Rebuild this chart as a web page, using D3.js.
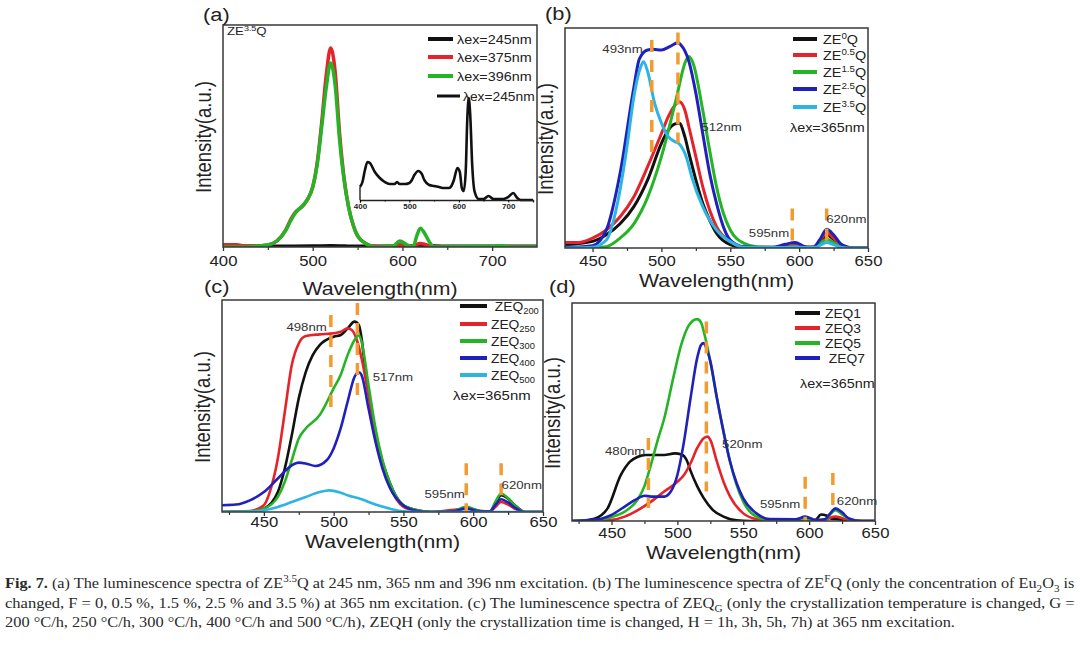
<!DOCTYPE html>
<html><head><meta charset="utf-8">
<script src="https://cdn.jsdelivr.net/npm/d3@7/dist/d3.min.js"></script>
<style>
html,body{margin:0;padding:0;background:#fff;}
svg{display:block;}
</style></head><body>
<svg id="fig" width="1080" height="645"></svg>
<script>
// ================= DATA =================
// Panel (a): ZE3.5Q under different excitation wavelengths  [nm, intensity]
const aEx245 = [[400,0.4],[450,0.3],[500,0.4],[520,0.6],[550,0.3],[600,0.3],[620,0.5],[650,0.3],[700,0.3],[750,0.3]];
const aEx375 = [[400,1],[415,1],[425,0.4],[440,0.5],[450,0.9],[460,2.7],[470,7.7],[475,12],[480,15.3],[490,19],[495,22],[500,27],[505,38],[510,56],[515,77],[520,89.6],[525,79],[530,51],[535,31],[540,18],[545,10],[550,5],[560,1.4],[570,0.2],[590,0.3],[597,1],[605,0.5],[612,0.2],[616,1.2],[620,1.6],[625,1.2],[630,0.5],[635,0],[700,0.1],[750,0]];
const aEx396 = [[400,0],[420,0],[440,0.5],[450,0.9],[460,2.7],[470,7.5],[475,11.5],[480,15],[490,19.2],[495,22],[500,27],[505,37],[510,54],[515,71.6],[520,82.9],[525,73],[530,48],[535,30],[540,18],[545,10],[550,5],[560,1.4],[570,0],[590,0.5],[597,2.7],[605,1],[612,0.2],[616,5],[620,8.5],[625,6],[630,2.3],[635,0],[700,0.3],[710,0.6],[720,0],[750,0]];
// inset of (a): 245 nm excitation
const aInset245 = [[400,11],[405,15],[410,25],[415,31.7],[420,30.8],[430,23.3],[440,18.3],[450,15],[460,13.3],[470,13.3],[475,15],[480,13.3],[490,13.3],[500,14.2],[505,16.7],[510,20.8],[518,24.2],[525,21.7],[530,16.7],[540,12.5],[550,11.7],[560,10.8],[570,10],[580,10],[585,11.7],[590,16.7],[597,26.7],[602,23.3],[606,10],[610,7.5],[614,25],[617,66.7],[620,85],[623,70.8],[627,29.2],[632,6.7],[640,0.8],[650,0.8],[660,3.3],[670,0.8],[690,0.8],[700,2.5],[710,5.8],[718,1.7],[725,0],[750,0]];
const aLegend = ["λex=245nm","λex=375nm","λex=396nm"];
const aInsetLegend = "λex=245nm";
const aTicks = [400,500,600,700], aMinor = [450,550,650];
const insetTicks = [400,500,600,700], insetMinor = [450,550,650];

// Panel (b): ZE^F Q, lambda ex = 365 nm
const bZE0  = [[430,1.5],[450,3],[460,6],[470,11],[480,18.8],[490,31],[500,47.6],[505,53.6],[510,56.4],[513,56.7],[517,50.6],[520,43],[525,31],[530,20.3],[535,12.7],[540,6.7],[550,1.5],[560,0.2],[580,0.1],[590,0.5],[597,1],[605,0.3],[612,0.5],[616,3],[620,6],[625,4],[630,1.2],[640,0],[650,0]];
const bZE05 = [[430,2.5],[440,2.5],[450,4.5],[460,8.2],[470,14.2],[480,23.3],[490,37],[500,52],[505,59.7],[510,65],[513,66.5],[517,62.7],[520,55],[525,41.5],[530,27.9],[535,17.3],[540,9.7],[550,2.9],[560,0.5],[580,0.1],[590,0.5],[597,1],[605,0.3],[612,0.5],[616,4],[620,7],[625,4.5],[630,1.3],[640,0],[650,0]];
const bZE15 = [[430,0],[450,0.2],[460,0.6],[470,4.5],[480,11],[490,23],[500,41.5],[510,65.8],[518,85.5],[520,87],[523,84],[530,62.7],[535,44.5],[540,27.9],[545,15.8],[550,8.2],[560,2.1],[570,0.5],[590,0.3],[597,0.5],[605,0.2],[612,0.4],[616,2.5],[620,4],[625,2.5],[630,0.8],[640,0],[650,0]];
const bZE25 = [[430,0.5],[440,0.5],[450,1],[460,8.2],[470,34],[480,73],[484,86],[490,90],[494,90.3],[500,90],[506,91.5],[512,93.3],[514,92.4],[520,84.7],[525,70.4],[530,52],[535,34],[540,20.3],[546,8],[550,3.6],[560,0.6],[580,0.3],[590,1.7],[597,2.5],[605,0.5],[610,0.3],[615,3.8],[620,8.5],[625,6],[630,2],[635,0.5],[640,0],[650,0]];
const bZE35 = [[430,0],[450,0.3],[460,3.6],[470,26.5],[475,46],[480,68.8],[485,82.4],[487,84.7],[490,80.2],[495,66],[500,56.8],[505,50.6],[510,48.3],[513,47.3],[518,41.5],[522,32.4],[530,18.8],[540,8.2],[550,2.9],[560,0.3],[590,0.2],[597,0.5],[605,0.2],[612,0.3],[616,1.5],[620,2.5],[625,1.5],[630,0.4],[640,0],[650,0]];
const bLegend = ["ZE^{0}Q","ZE^{0.5}Q","ZE^{1.5}Q","ZE^{2.5}Q","ZE^{3.5}Q"];
const bMarkers = [[493,94.5,43.2],[512,98,47.7],[595,18,0],[620,18,0]];   // [nm, top, bottom]
const bNotes = [["493nm",486.4,88.6,"end"],["512nm",529,53.2,"start"],["595nm",592.8,5,"end"],["620nm",619.6,11.4,"start"]];
const bTicks = [450,500,550,600,650], bMinor = [475,525,575,625];

// Panel (c): ZEQ_G, crystallization temperature
const cZEQ200 = [[420,0],[440,0.3],[450,1.6],[460,9.4],[465,20.5],[470,36.2],[475,53.6],[480,66],[485,74],[490,78.7],[500,82.7],[505,83.5],[510,86.6],[515,89.8],[518,88.2],[520,82],[522,70.9],[525,56.7],[530,37.8],[535,23.6],[540,14.2],[545,7.1],[550,3.1],[560,0.8],[570,0],[585,0.3],[595,2],[605,0.5],[612,0.3],[616,4],[620,7.9],[625,6.3],[630,3.1],[637,0],[650,0]];
const cZEQ250 = [[420,0],[440,0.5],[450,3.2],[455,11],[460,25.2],[465,47.2],[470,69.3],[475,79.5],[480,83],[490,83.8],[500,84.3],[505,85],[510,86.6],[513,85.8],[517,80.3],[520,72.5],[525,55],[530,36.2],[535,22],[540,12.6],[550,2.4],[560,0.5],[570,0],[595,1.5],[605,0.3],[612,0.3],[616,2.5],[620,4.7],[625,3.5],[630,1.5],[637,0],[650,0]];
const cZEQ300 = [[420,0],[440,0.3],[450,1.6],[460,7.1],[465,14.2],[470,24.4],[475,34.7],[480,39.4],[490,45.7],[500,58.3],[505,64.6],[510,74],[515,81.1],[518,83.5],[520,80.3],[525,59.8],[530,39.4],[535,24.4],[540,14.2],[550,3.1],[560,0.8],[570,0],[585,0.3],[595,2.4],[605,0.5],[612,0.3],[616,5],[620,8.7],[625,6.5],[630,3],[637,0],[650,0]];
const cZEQ400 = [[420,3.2],[430,3.5],[440,5.5],[450,9.4],[460,15.8],[470,22],[475,23.3],[480,22.9],[487,21.7],[495,24.4],[500,30],[505,39.4],[510,52],[515,63.8],[518,65.9],[520,64.6],[525,48.8],[530,33],[535,20.5],[540,11.8],[550,3.1],[560,0.5],[570,0],[585,0.3],[595,1.6],[605,0.3],[612,0.3],[616,3.5],[620,6],[625,4.5],[630,2],[637,0],[650,0]];
const cZEQ500 = [[420,0],[440,0.2],[450,0.8],[460,2.4],[470,4.7],[480,7.1],[490,9.4],[497,10.2],[505,9.1],[510,7.9],[520,6],[530,3.5],[540,1.6],[550,0.3],[560,0],[650,0]];
const cLegend = [" ZEQ_{200}","ZEQ_{250}","ZEQ_{300}","ZEQ_{400}","ZEQ_{500}"];
const cMarkers = [[498,92.9,48.9],[517,98.6,55.1],[595,23,0],[620,23,5.5]];
const cNotes = [["498nm",495.1,85.4,"end"],["517nm",528,61.7,"start"],["595nm",594,6.5,"end"],["620nm",620.3,10.7,"start"]];
const cTicks = [450,500,550,600,650], cMinor = [425,475,525,575,625];

// Panel (d): ZEQH, crystallization time
const dZEQ1 = [[420,0],[430,0.3],[437,1],[447,5.8],[457,21],[464,27.2],[470,29.5],[476,30.3],[490,30.3],[498,31],[503,30.5],[507,28],[510,23],[515,16],[520,10.5],[527,5],[535,2],[545,0.3],[555,0],[600,0],[605,0.5],[609,3],[613,2.5],[617,1],[622,0.8],[630,0],[650,0]];
const dZEQ3 = [[420,0],[440,0.2],[450,0.5],[460,2],[470,5],[480,8.9],[490,13.5],[500,18],[505,21.1],[510,26.5],[515,33.4],[520,38],[523,38.7],[525,37.2],[530,27.2],[535,18],[540,11.2],[550,3.5],[560,0.8],[570,0],[605,0],[612,0.5],[616,1.5],[620,2],[625,1.3],[630,0.5],[640,0],[650,0]];
const dZEQ5 = [[420,0],[440,0.5],[450,1.8],[460,4.3],[470,10],[475,16],[480,26],[485,37],[490,47],[497,66],[503,81],[509,90],[515,92.6],[518,91],[520,87],[525,73.2],[530,56.4],[535,41],[540,27.2],[545,16.5],[550,8.9],[560,2],[570,0.5],[585,0.3],[595,1.2],[605,0.3],[612,0.5],[616,3],[620,5],[625,3],[630,1.2],[640,0],[650,0]];
const dZEQ7 = [[420,0],[440,0.8],[450,2.8],[460,6.6],[470,10.4],[475,11.6],[480,11.2],[490,11.2],[495,13.5],[500,21.1],[505,36.4],[510,56.4],[515,74.7],[518,80.8],[520,81.6],[522,79.3],[525,73.2],[530,56.4],[535,41],[540,27.2],[545,17.3],[550,10.4],[560,3.5],[570,0.9],[590,0.8],[597,2],[605,0.5],[612,0.8],[616,3.5],[620,5.8],[625,4],[630,1.2],[640,0],[650,0]];
const dLegend = ["ZEQ1","ZEQ3","ZEQ5"," ZEQ7"];
const dMarkers = [[478,38.1,6],[522,91.5,13.5],[597,20.3,0],[618,22,7.3]];
const dNotes = [["480nm",475.7,30.3,"end"],["520nm",533.9,33.7,"start"],["595nm",593.3,5.8,"end"],["620nm",621,7.3,"start"]];
const dTicks = [450,500,550,600,650], dMinor = [425,475,525,575,625];

// Caption
const captionLines = [
  [["Fig. 7.","b"],[" (a) The luminescence spectra of ZE"],["3.5","sup"],["Q at 245 nm, 365 nm and 396 nm excitation. (b) The luminescence spectra of ZE"],["F","sup"],["Q (only the concentration of Eu"],["2","sub"],["O"],["3","sub"],[" is"]],
  [["changed, F = 0, 0.5 %, 1.5 %, 2.5 % and 3.5 %) at 365 nm excitation. (c) The luminescence spectra of ZEQ"],["G","sub"],[" (only the crystallization temperature is changed, G ="]],
  [["200 °C/h, 250 °C/h, 300 °C/h, 400 °C/h and 500 °C/h), ZEQH (only the crystallization time is changed, H = 1h, 3h, 5h, 7h) at 365 nm excitation."]]
];

// ================= DRAWING =================
const COL = {k:"#111111", r:"#e4232a", g:"#25b425", b:"#2020bb", c:"#2cb4e2", o:"#f29b30"};
const FONT = "'Liberation Sans', Arial, Helvetica, sans-serif";
const SX = 1.15;  // horizontal stretch of the original artwork
const svg = d3.select("#fig");

function richText(sel, s, fs) {
  const re = /([\^_])\{([^}]*)\}/g;
  let last = 0, m, cur = 0;
  const add = (str, off, size) => {
    if (!str) return;
    sel.append("tspan").attr("dy", off - cur).attr("font-size", size).text(str);
    cur = off;
  };
  while ((m = re.exec(s)) !== null) {
    add(s.slice(last, m.index), 0, fs);
    add(m[2], m[1] === "^" ? -0.38 * fs : 0.25 * fs, 0.68 * fs);
    last = re.lastIndex;
  }
  add(s.slice(last), 0, fs);
}
function label(g, x, y, s, fs, anchor, opts) {
  opts = opts || {};
  const t = g.append("text")
    .attr("transform", `translate(${x},${y}) scale(${SX},1)` + (opts.rot ? " rotate(-90)" : ""))
    .attr("font-family", FONT).attr("font-size", fs).attr("fill", opts.fill || "#222")
    .attr("text-anchor", anchor || "start").style("white-space", "pre");
  if (opts.weight) t.attr("font-weight", opts.weight);
  richText(t, s, fs);
  return t;
}

function panel(o) {
  const g = svg.append("g");
  const x = d3.scaleLinear().domain(o.xd).range([o.l, o.r]);
  const y = d3.scaleLinear().domain([0, 100]).range([o.b, o.t]);
  const clipId = "clip" + o.name;
  svg.append("clipPath").attr("id", clipId).append("rect")
    .attr("x", o.l).attr("y", o.t).attr("width", o.r - o.l).attr("height", o.b - o.t);

  // axes
  const ax = g.append("g").attr("transform", `translate(0,${o.b})`)
    .call(d3.axisBottom(x).tickValues(o.ticks).tickSize(4).tickPadding(o.pad).tickFormat(d3.format("d")));
  ax.attr("font-family", FONT).attr("font-size", 14.5);
  ax.select(".domain").remove();
  ax.selectAll("line").attr("stroke", "#333").attr("stroke-width", 1.3);
  ax.selectAll("text").attr("fill", "#222").attr("transform", `scale(${SX},1)`);
  const mi = g.append("g").attr("transform", `translate(0,${o.b})`)
    .call(d3.axisBottom(x).tickValues(o.minor).tickSize(3).tickFormat(""));
  mi.select(".domain").remove();
  mi.selectAll("line").attr("stroke", "#333").attr("stroke-width", 1.2);

  // series
  const line = d3.line().x(d => x(d[0])).y(d => y(d[1])).curve(d3.curveMonotoneX);
  const cg = g.append("g").attr("clip-path", `url(#${clipId})`);
  o.series.forEach(s => cg.append("path").attr("d", line(s.data)).attr("fill", "none")
    .attr("stroke", s.color).attr("stroke-width", o.lw).attr("stroke-linejoin", "round").attr("stroke-linecap", "round"));

  // orange dashed markers
  (o.markers || []).forEach(m => g.append("line")
    .attr("x1", x(m[0])).attr("x2", x(m[0])).attr("y1", y(m[1])).attr("y2", y(m[2]))
    .attr("stroke", COL.o).attr("stroke-width", 3.5).attr("stroke-dasharray", "12,8"));
  (o.notes || []).forEach(n => label(g, x(n[1]), y(n[2]), n[0], 11.5, n[3], {fill: "#333"}));

  // frame
  g.append("rect").attr("x", o.l).attr("y", o.t).attr("width", o.r - o.l).attr("height", o.b - o.t)
    .attr("fill", "none").attr("stroke", "#383838").attr("stroke-width", 1.5);

  // titles
  label(g, (o.l + o.r) / 2, o.xlabY, "Wavelength(nm)", 18.5, "middle");
  label(g, o.l - 12, (o.t + o.b) / 2 + 1, "Intensity(a.u.)", 18.5, "middle", {rot: true});
  label(g, o.tag[1], o.tag[2], o.tag[0], 19, "start");

  // legend
  const L = o.leg;
  o.series.forEach((s, i) => {
    if (!L.texts[i]) return;
    g.append("line").attr("x1", L.x1).attr("x2", L.x2).attr("y1", L.ys[i]).attr("y2", L.ys[i])
      .attr("stroke", s.color).attr("stroke-width", 4);
    label(g, L.tx, L.ys[i] + 4.5, L.texts[i], L.fs, "start");
  });
  return {g, x, y};
}

// ---- (a)
const A = panel({
  name: "a", l: 223, r: 537, t: 25, b: 247, xd: [400, 750], lw: 3.5, pad: 5,
  ticks: aTicks, minor: aMinor, xlabY: 295, tag: ["(a)", 203, 21],
  series: [{data: aEx245, color: COL.k}, {data: aEx375, color: COL.r}, {data: aEx396, color: COL.g}],
  leg: {x1: 428, x2: 453, tx: 457, ys: [39, 57, 76], texts: aLegend, fs: 12.5}
});
label(A.g, 227, 35, "ZE^{3.5}Q", 11.5, "start");
// inset
{
  const ix = d3.scaleLinear().domain([400, 750]).range([360, 533]);
  const iy = d3.scaleLinear().domain([0, 100]).range([200, 80]);
  const ig = A.g.append("g");
  const il = d3.line().x(d => ix(d[0])).y(d => iy(d[1])).curve(d3.curveMonotoneX);
  ig.append("path").attr("d", il(aInset245)).attr("fill", "none").attr("stroke", COL.k)
    .attr("stroke-width", 2.6).attr("stroke-linejoin", "round");
  const iax = ig.append("g").attr("transform", `translate(0,${iy(0)})`)
    .call(d3.axisBottom(ix).tickValues(insetTicks).tickSize(2.5).tickPadding(1.5).tickFormat(d3.format("d")));
  iax.attr("font-family", FONT).attr("font-size", 7).attr("font-weight", "bold");
  iax.select(".domain").attr("stroke", "#222").attr("stroke-width", 1.4);
  iax.selectAll("text").attr("fill", "#222").attr("transform", `scale(${SX},1)`);
  const imi = ig.append("g").attr("transform", `translate(0,${iy(0)})`)
    .call(d3.axisBottom(ix).tickValues(insetMinor).tickSize(1.5).tickFormat(""));
  imi.select(".domain").remove();
  ig.append("line").attr("x1", ix(400)).attr("x2", ix(400)).attr("y1", iy(0)).attr("y2", iy(11)).attr("stroke", "#222").attr("stroke-width", 1.4);
  ig.append("line").attr("x1", 437).attr("x2", 460).attr("y1", 96).attr("y2", 96).attr("stroke", COL.k).attr("stroke-width", 3);
  label(ig, 463, 100.5, aInsetLegend, 12, "start");
}

// ---- (b)
const B = panel({
  name: "b", l: 565, r: 868, t: 28, b: 248, xd: [430, 650], lw: 3, pad: 4,
  ticks: bTicks, minor: bMinor, xlabY: 287, tag: ["(b)", 545, 20],
  series: [{data: bZE0, color: COL.k}, {data: bZE05, color: COL.r}, {data: bZE15, color: COL.g}, {data: bZE25, color: COL.b}, {data: bZE35, color: COL.c}],
  markers: bMarkers, notes: bNotes,
  leg: {x1: 793, x2: 817, tx: 823, ys: [39, 55, 72, 89, 107], texts: bLegend, fs: 12.5}
});
label(B.g, 790, 132, "λex=365nm", 12.5, "start");

// ---- (c)
const Cp = panel({
  name: "c", l: 222, r: 543, t: 300, b: 512, xd: [420, 650], lw: 2.6, pad: 1,
  ticks: cTicks, minor: cMinor, xlabY: 548, tag: ["(c)", 204, 293],
  series: [{data: cZEQ200, color: COL.k}, {data: cZEQ250, color: COL.r}, {data: cZEQ300, color: COL.g}, {data: cZEQ400, color: COL.b}, {data: cZEQ500, color: COL.c}],
  markers: cMarkers, notes: cNotes,
  leg: {x1: 460, x2: 487, tx: 491, ys: [306, 324, 341, 358, 375], texts: cLegend, fs: 12}
});
label(Cp.g, 453, 400, "λex=365nm", 13, "start");

// ---- (d)
const Dp = panel({
  name: "d", l: 572, r: 875, t: 303, b: 521, xd: [420, 650], lw: 2.6, pad: 3,
  ticks: dTicks, minor: dMinor, xlabY: 559, tag: ["(d)", 549, 293],
  series: [{data: dZEQ1, color: COL.k}, {data: dZEQ3, color: COL.r}, {data: dZEQ5, color: COL.g}, {data: dZEQ7, color: COL.b}],
  markers: dMarkers, notes: dNotes,
  leg: {x1: 795, x2: 820, tx: 825, ys: [313, 328, 343, 358], texts: dLegend, fs: 12}
});
label(Dp.g, 800, 388, "λex=365nm", 12.5, "start");

// ---- caption
{
  const cg = svg.append("g");
  const ys = [588, 608, 627];
  const fs = 15.5;
  const nodes = captionLines.map((parts, i) => {
    const t = cg.append("text").attr("font-family", "'Liberation Serif', 'DejaVu Serif', serif")
      .attr("font-size", fs).attr("fill", "#2a2a2a").style("white-space", "pre");
    let cur = 0;
    parts.forEach(p => {
      const off = p[1] === "sup" ? -0.38 * fs : p[1] === "sub" ? 0.25 * fs : 0;
      const ts = t.append("tspan").attr("dy", off - cur).text(p[0]);
      if (p[1] === "sup" || p[1] === "sub") ts.attr("font-size", fs * 0.68);
      if (p[1] === "b") ts.attr("font-weight", "bold");
      cur = off;
    });
    return t;
  });
  const widths = nodes.map(n => n.node().getBBox().width);
  const s0 = 1070 / widths[0], s1 = 1070 / widths[1];
  const scales = [s0, s1, (s0 + s1) / 2];
  nodes.forEach((n, i) => n.attr("transform", `translate(5,${ys[i]}) scale(${scales[i]},1)`));
}
</script>
</body></html>
